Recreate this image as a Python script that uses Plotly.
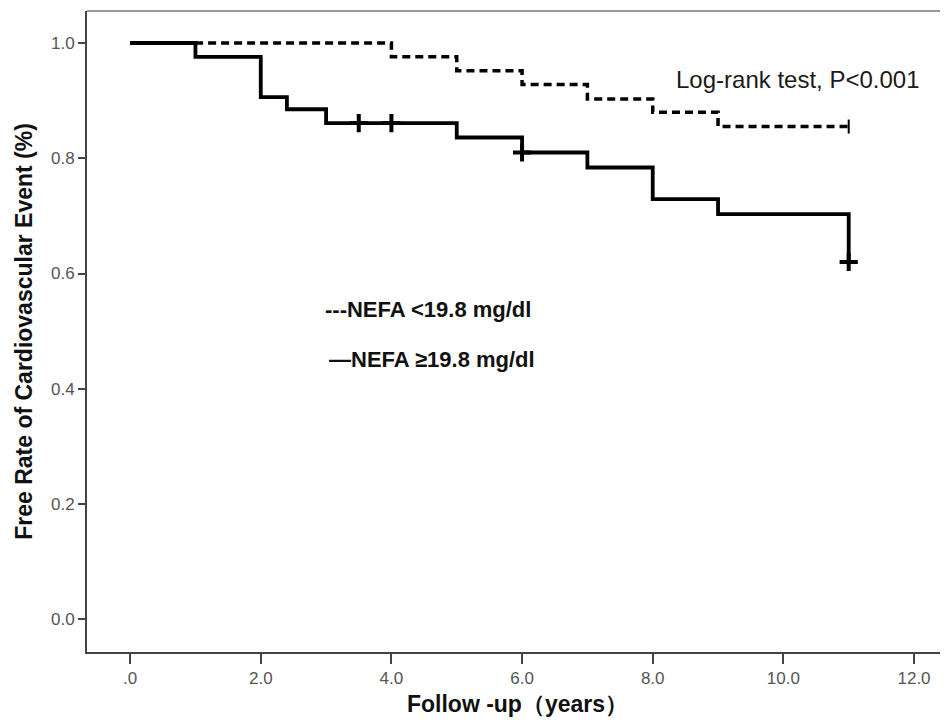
import plotly.graph_objects as go

# Kaplan-Meier estimates
times_low = [0, 4, 5, 6, 7, 8, 9, 11]
surv_low = [1.0, 0.976, 0.952, 0.928, 0.903, 0.880, 0.855, 0.855]

times_high = [0, 1, 2, 2.4, 3, 5, 6, 7, 8, 9, 11]
surv_high = [1.0, 0.976, 0.906, 0.885, 0.861, 0.836, 0.810, 0.784, 0.729, 0.703, 0.620]

cens_high_t = [3.5, 4.0, 6.0, 11.0]
cens_high_s = [0.861, 0.861, 0.810, 0.620]
cens_low_t = [11.0]
cens_low_s = [0.855]

x_tickvals = [0, 2, 4, 6, 8, 10, 12]
x_ticktext = [".0", "2.0", "4.0", "6.0", "8.0", "10.0", "12.0"]
y_tickvals = [0.0, 0.2, 0.4, 0.6, 0.8, 1.0]
y_ticktext = ["0.0", "0.2", "0.4", "0.6", "0.8", "1.0"]

FONT = "Liberation Sans, Arial, sans-serif"

fig = go.Figure()
fig.add_trace(go.Scatter(x=times_low, y=surv_low, mode="lines", line_shape="hv",
                         line=dict(color="black", width=3.5, dash="8px,5px"),
                         showlegend=False, hoverinfo="skip"))
fig.add_trace(go.Scatter(x=times_high, y=surv_high, mode="lines", line_shape="hv",
                         line=dict(color="black", width=3.8),
                         showlegend=False, hoverinfo="skip"))
fig.add_trace(go.Scatter(x=cens_high_t, y=cens_high_s, mode="markers",
                         marker=dict(symbol="cross-thin", size=13,
                                     line=dict(color="black", width=4)),
                         showlegend=False, hoverinfo="skip"))
fig.add_trace(go.Scatter(x=cens_low_t, y=cens_low_s, mode="markers",
                         marker=dict(symbol="line-ns", size=10,
                                     line=dict(color="black", width=2)),
                         showlegend=False, hoverinfo="skip"))

fig.add_annotation(x=8.33, y=0.936, xref="x", yref="y", xanchor="left", yanchor="middle",
                   text="Log-rank test, P<0.001", showarrow=False,
                   font=dict(family=FONT, size=24, color="#1a1a1a"))
fig.add_annotation(x=2.95, y=0.538, xref="x", yref="y", xanchor="left", yanchor="middle",
                   text="<b>---NEFA <19.8 mg/dl</b>", showarrow=False,
                   font=dict(family=FONT, size=22, color="#111111"))
fig.add_annotation(x=3.01, y=0.450, xref="x", yref="y", xanchor="left", yanchor="middle",
                   text="<b>—NEFA ≥19.8 mg/dl</b>", showarrow=False,
                   font=dict(family=FONT, size=22, color="#111111"))

# top frame line
fig.add_shape(type="line", xref="paper", yref="paper", x0=0, x1=1, y0=1, y1=1,
              line=dict(color="#999999", width=2))

fig.update_layout(
    width=940, height=713,
    margin=dict(l=79, r=0, t=3, b=69),
    paper_bgcolor="white", plot_bgcolor="white",
    font=dict(family=FONT),
    xaxis=dict(range=[-0.66, 12.52], tickvals=x_tickvals, ticktext=x_ticktext,
               showgrid=False, zeroline=False, showline=True, linecolor="#444444",
               linewidth=2, ticks="outside", ticklen=10, tickwidth=2, tickcolor="#444444",
               tickfont=dict(family=FONT, size=17, color="#555555"),
               title=dict(text="<b>Follow -up（years）</b>", standoff=8,
                          font=dict(family=FONT, size=23, color="#111111"))),
    yaxis=dict(range=[-0.0567, 1.0555], tickvals=y_tickvals, ticktext=y_ticktext,
               showgrid=False, zeroline=False, showline=True, linecolor="#444444",
               linewidth=2, ticks="outside", ticklen=7, tickwidth=2, tickcolor="#444444",
               tickfont=dict(family=FONT, size=17, color="#555555"),
               title=dict(text="<b>Free Rate of Cardiovascular Event (%)</b>", standoff=12,
                          font=dict(family=FONT, size=23, color="#111111"))),
)

fig.write_html("out.html")
